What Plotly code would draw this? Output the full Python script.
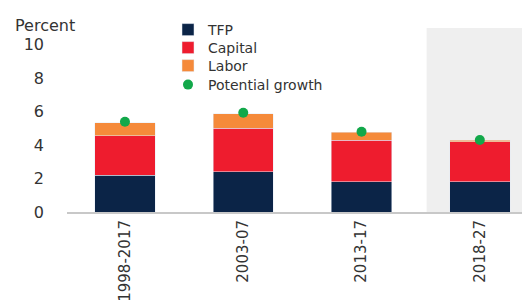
import plotly.graph_objects as go

categories = ["1998-2017", "2003-07", "2013-17", "2018-27"]
tfp = [2.2, 2.4, 1.8, 1.8]
capital = [2.35, 2.6, 2.5, 2.4]
labor = [0.8, 0.87, 0.47, 0.1]
potential = [5.4, 5.93, 4.8, 4.3]

C_TFP = "#0b2447"
C_CAP = "#ee1c2e"
C_LAB = "#f58a3a"
C_POT = "#12a84a"
FONT = "DejaVu Sans, Arial, sans-serif"

# page body has an 8px margin: figure is sized to fill the 530x303 window from (8,8)
W, H = 522, 295
L, T, B = 59, 20, 91
PH = H - T - B

fig = go.Figure()
fig.add_bar(x=categories, y=tfp, name="TFP", marker_color=C_TFP, legend="legend")
fig.add_bar(x=categories, y=capital, name="Capital", marker_color=C_CAP, legend="legend2")
fig.add_bar(x=categories, y=labor, name="Labor", marker_color=C_LAB, legend="legend3")
fig.add_scatter(x=categories, y=potential, name="Potential growth", mode="markers",
                marker=dict(color=C_POT, size=10), legend="legend4")

fig.add_shape(type="rect", xref="x", yref="y", x0=2.55, x1=3.5, y0=0, y1=11,
              fillcolor="#efefef", line_width=0, layer="below")

fig.add_annotation(text="Percent", xref="paper", yref="paper",
                   x=(5 - L) / (W - L), y=(H - B - 17) / PH,
                   xanchor="left", yanchor="middle", showarrow=False,
                   font=dict(size=16, color="#333333", family=FONT))

def leg(ypx):
    return dict(x=(160 - L) / (W - L), y=(H - B - ypx) / PH, xanchor="left",
                yanchor="middle", bgcolor="rgba(0,0,0,0)", borderwidth=0,
                font=dict(size=14, family=FONT, color="#333333"))

fig.update_layout(
    width=W, height=H,
    margin=dict(l=L, r=0, t=T, b=B, autoexpand=False),
    barmode="stack",
    bargap=0.49,
    plot_bgcolor="white",
    paper_bgcolor="white",
    font=dict(family=FONT, size=15, color="#333333"),
    legend=leg(22),
    legend2=leg(40),
    legend3=leg(58),
    legend4=leg(77),
    showlegend=True,
)
fig.update_xaxes(type="category", range=[-0.49, 3.424], tickangle=-90, showline=True,
                 linecolor="#c8c8c8", linewidth=2, ticks="", showgrid=False,
                 tickfont=dict(size=15))
fig.update_yaxes(range=[0, 11], tickvals=[0, 2, 4, 6, 8, 10], showgrid=False,
                 zeroline=False, ticks="", showline=False, ticklabelstandoff=22,
                 tickfont=dict(size=16))

fig.write_html("out.html")
